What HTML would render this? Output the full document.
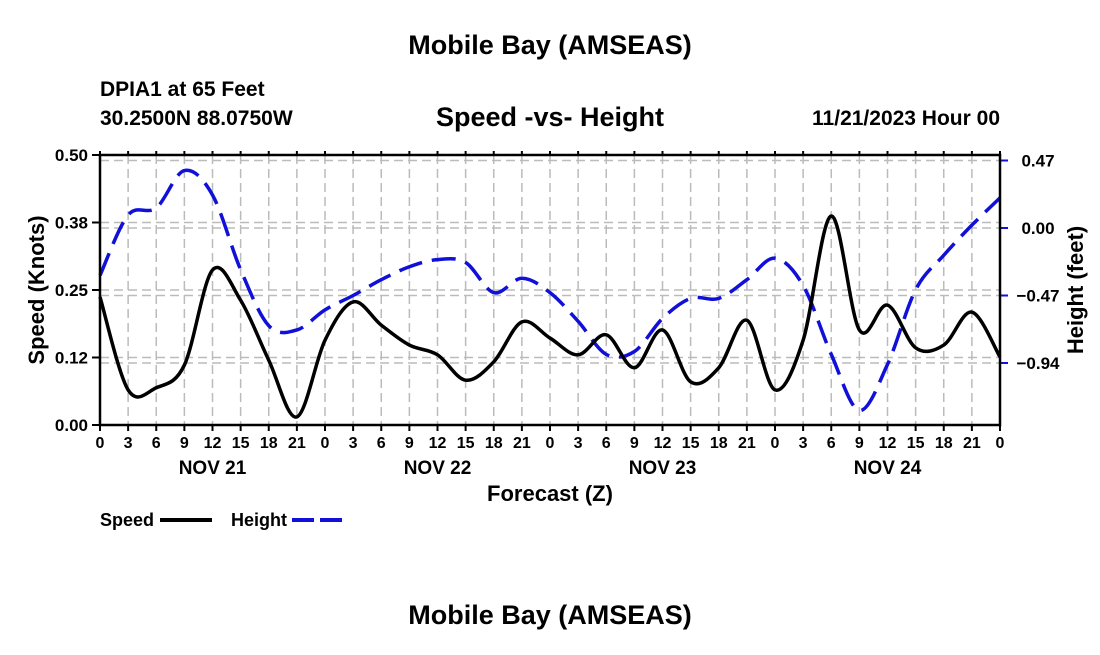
<!DOCTYPE html>
<html><head><meta charset="utf-8"><style>
body{margin:0;background:#fff;}
svg text{font-family:"Liberation Sans",sans-serif;font-weight:bold;fill:#000;}
</style></head><body>
<svg id="chart" width="1100" height="650" xmlns="http://www.w3.org/2000/svg">
<text x="550" y="54" font-size="27" text-anchor="middle">Mobile Bay (AMSEAS)</text>
<text x="100" y="96" font-size="21">DPIA1 at 65 Feet</text>
<text x="100" y="125" font-size="21">30.2500N  88.0750W</text>
<text x="550" y="126" font-size="27" text-anchor="middle">Speed -vs- Height</text>
<text x="1000" y="125" font-size="21" text-anchor="end">11/21/2023 Hour 00</text>
<g id="grid"></g>
<g id="series"></g>
<g id="axes"></g>
<text transform="translate(44,290) rotate(-90)" font-size="22" text-anchor="middle">Speed (Knots)</text>
<text transform="translate(1083,290) rotate(-90)" font-size="22" text-anchor="middle">Height (feet)</text>
<text x="550" y="501" font-size="22" text-anchor="middle">Forecast (Z)</text>
<g>
<text x="100" y="526" font-size="18">Speed</text>
<line x1="160" y1="520" x2="212" y2="520" stroke="#000" stroke-width="4"/>
<text x="231" y="526" font-size="18">Height</text>
<line x1="292" y1="520" x2="342" y2="520" stroke="#1010d8" stroke-width="4" stroke-dasharray="22,6"/>
</g>
<text x="550" y="624" font-size="27" text-anchor="middle">Mobile Bay (AMSEAS)</text>
</svg>
<script>
const hours=[0,3,6,9,12,15,18,21,24,27,30,33,36,39,42,45,48,51,54,57,60,63,66,69,72,75,78,81,84,87,90,93,96];
const speed=[0.237,0.065,0.069,0.111,0.287,0.231,0.120,0.015,0.157,0.228,0.185,0.148,0.130,0.083,0.117,0.191,0.161,0.130,0.167,0.106,0.176,0.080,0.106,0.194,0.065,0.157,0.387,0.176,0.222,0.143,0.148,0.209,0.126];
const height=[-0.33,0.09,0.14,0.40,0.23,-0.29,-0.68,-0.71,-0.57,-0.47,-0.36,-0.27,-0.22,-0.24,-0.45,-0.35,-0.45,-0.65,-0.88,-0.86,-0.63,-0.49,-0.49,-0.36,-0.21,-0.40,-0.88,-1.27,-0.95,-0.43,-0.19,0.02,0.21];
const speedTicks=[0,0.125,0.25,0.375,0.5];
const speedTickLabels=["0.00","0.12","0.25","0.38","0.50"];
const heightTicks=[-0.94,-0.47,0,0.47];
const heightTickLabels=["\u22120.94","\u22120.47","0.00","0.47"];
const dayLabels=["NOV 21","NOV 22","NOV 23","NOV 24"];
const NS="http://www.w3.org/2000/svg";
const L=100,R=1000,T=155,B=425;
const xS=h=>L+(h/96)*(R-L);
const yS=s=>B-(s/0.5)*(B-T);
const yH=v=>228-v*143.6;
function mk(tag,attrs,parent){const e=document.createElementNS(NS,tag);for(const k in attrs)e.setAttribute(k,attrs[k]);parent.appendChild(e);return e;}
const grid=document.getElementById('grid'),axes=document.getElementById('axes'),series=document.getElementById('series');
for(let h=3;h<96;h+=3){const g=mk('line',{x1:xS(h),x2:xS(h),y1:T,y2:B,stroke:'#bbb','stroke-width':1.5,'stroke-dasharray':'9,5'},grid);

}
speedTicks.forEach((v,i)=>{if(i>0&&i<4){const g=mk('line',{x1:L,x2:R,y1:yS(v),y2:yS(v),stroke:'#bbb','stroke-width':1.5,'stroke-dasharray':'9,5'},grid);

}
const t=mk('text',{x:L-12,y:yS(v)+6,'font-size':17,'text-anchor':'end'},axes);t.textContent=speedTickLabels[i];


mk('line',{x1:L-8,x2:L,y1:yS(v),y2:yS(v),stroke:'#000','stroke-width':2},axes);});
heightTicks.forEach((v,i)=>{const g=mk('line',{x1:L,x2:R,y1:yH(v),y2:yH(v),stroke:'#bbb','stroke-width':1.5,'stroke-dasharray':'9,5'},grid);


mk('line',{x1:R,x2:R+8,y1:yH(v),y2:yH(v),stroke:'#1010d8','stroke-width':2},axes);
const t=mk('text',{x:1038,y:yH(v)+6,'font-size':17,'text-anchor':'middle'},axes);t.textContent=heightTickLabels[i];

});
for(let h=0;h<=96;h+=3){const t=mk('text',{x:xS(h),y:448,'font-size':16,'text-anchor':'middle'},axes);t.textContent=String(h%24);


mk('line',{x1:xS(h),x2:xS(h),y1:B,y2:B+6,stroke:'#000','stroke-width':2},axes);
mk('line',{x1:xS(h),x2:xS(h),y1:T-4,y2:T,stroke:'#000','stroke-width':2},axes);}
dayLabels.forEach((d,i)=>{const t=mk('text',{x:xS(12+24*i),y:474,'font-size':19,'text-anchor':'middle'},axes);t.textContent=d;

});
const frame=mk('rect',{x:L,y:T,width:R-L,height:B-T,fill:'none',stroke:'#000','stroke-width':2.5},axes);


function spline(pts){let d='M'+pts[0][0]+','+pts[0][1];for(let i=0;i<pts.length-1;i++){const p0=pts[Math.max(0,i-1)],p1=pts[i],p2=pts[i+1],p3=pts[Math.min(pts.length-1,i+2)];
d+=' C'+(p1[0]+(p2[0]-p0[0])/6)+','+(p1[1]+(p2[1]-p0[1])/6)+' '+(p2[0]-(p3[0]-p1[0])/6)+','+(p2[1]-(p3[1]-p1[1])/6)+' '+p2[0]+','+p2[1];}return d;}
const hp=mk('path',{d:spline(hours.map((h,i)=>[xS(h),yH(height[i])])),fill:'none',stroke:'#1010d8','stroke-width':3.5,'stroke-dasharray':'24,10'},series);


const sp=mk('path',{d:spline(hours.map((h,i)=>[xS(h),yS(speed[i])])),fill:'none',stroke:'#000','stroke-width':3.5},series);


</script>
</body></html>
